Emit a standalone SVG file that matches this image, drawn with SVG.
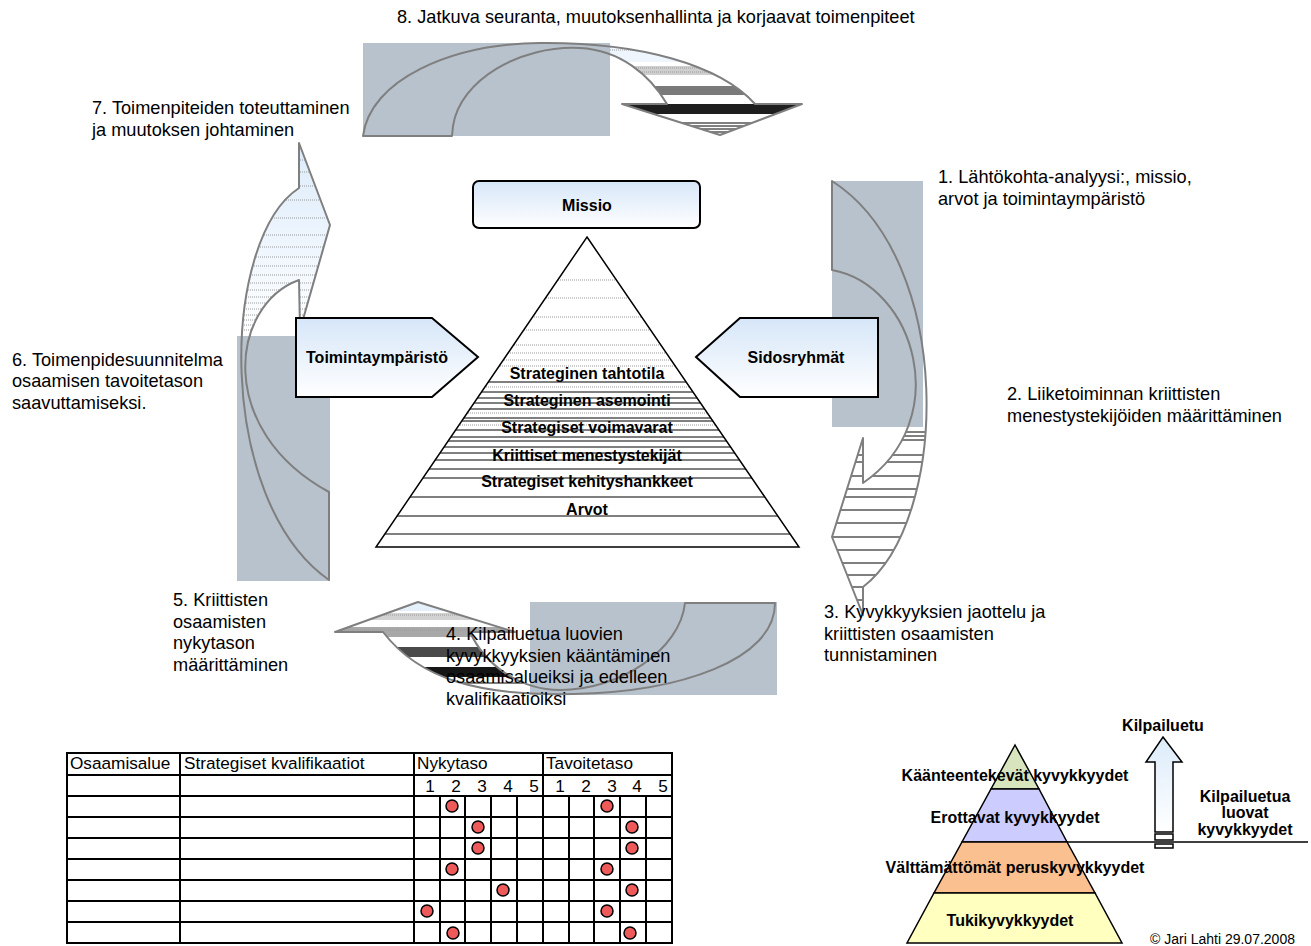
<svg xmlns="http://www.w3.org/2000/svg" width="1311" height="946" viewBox="0 0 1311 946">
<style>
.lbl{font-family:"Liberation Sans",Arial,sans-serif;font-size:18.2px;fill:#000}
.b16{font-family:"Liberation Sans",Arial,sans-serif;font-size:16px;font-weight:bold;fill:#000}
.tb{font-family:"Liberation Sans",Arial,sans-serif;font-size:17.2px;fill:#000}
.cr{font-family:"Liberation Sans",Arial,sans-serif;font-size:14px;fill:#000}
.gray{fill:#B8C2CC}
.aout{fill:none;stroke:#7F7F7F;stroke-width:2;stroke-linejoin:round}
.box{fill:url(#boxg);stroke:#000;stroke-width:2}
.tl{stroke:#000;stroke-width:2;fill:none}
.dot{fill:#EE5A5A;stroke:#000;stroke-width:1.5}
.pl{stroke:#000;stroke-width:1}
.pd{stroke:#999;stroke-width:1;stroke-dasharray:1 1}
.bl{stroke:#000;stroke-width:1}
.gl{stroke:#9A9A9A;stroke-width:1;stroke-dasharray:1 1}
.sp{stroke:#000;stroke-width:1.5;stroke-linejoin:miter}
</style>
<defs>
<linearGradient id="boxg" x1="0" y1="0" x2="0" y2="1"><stop offset="0" stop-color="#D6E6F8"/><stop offset="1" stop-color="#FFFFFF"/></linearGradient>
<linearGradient id="lblue" x1="0" y1="0" x2="0" y2="1"><stop offset="0" stop-color="#DCEBFA"/><stop offset="1" stop-color="#FFFFFF"/></linearGradient>
<clipPath id="cTop"><path d="M363,136 L452,136 L453,126 C460,80 520,45 580,48 C620,50 650,75 667,104 L622,104 L720,135 L802,104 L755,104 C720,65 640,42 540,43 C450,44 370,80 363,136 Z"/></clipPath>
<clipPath id="cRight"><path d="M832,181 L832,270 C915,285 955,420 863,483 L863,438 L832,537 L863,615 L863,587 C950,520 955,260 832,181 Z"/></clipPath>
<clipPath id="cLeft"><path d="M299,143 L330,225 L300,330 L299,280 C230,305 215,430 329,492 L329,580 C215,500 220,240 299,188 Z"/></clipPath>
<clipPath id="cBot"><path d="M775,603 L685,603 C680,650 620,690 560,690 C520,690 485,665 470,632 L515,632 L418,602 L335,632 L383,632 C420,680 480,696 573,694 C680,692 775,660 775,603 Z"/></clipPath>
<clipPath id="cPyr"><path d="M587,237 L799,547 L376,547 Z"/></clipPath>
</defs>

<g id="connectors">
 <g id="arrow-top">
  <g clip-path="url(#cTop)">
   <rect x="600" y="40" width="210" height="100" fill="#FFFFFF"/>
   <rect x="600" y="44" width="210" height="18" fill="#EEF5FD"/>
   <line x1="600" y1="47" x2="810" y2="47" class="gl"/>
   <line x1="600" y1="50" x2="810" y2="50" class="gl"/>
   <rect x="600" y="66" width="210" height="9" fill="#CFCFCF"/>
   <line x1="600" y1="68" x2="810" y2="68" class="gl"/>
   <line x1="600" y1="72" x2="810" y2="72" class="gl"/>
   <rect x="600" y="86" width="210" height="9" fill="#7A7A7A"/>
   <rect x="600" y="104" width="210" height="10" fill="#1E1E1E"/>
   <line x1="600" y1="123" x2="810" y2="123" class="bl"/>
   <line x1="600" y1="126" x2="810" y2="126" class="bl"/>
   <line x1="600" y1="129" x2="810" y2="129" class="bl"/>
   <line x1="600" y1="132" x2="810" y2="132" class="bl"/>
  </g>
  <rect x="363" y="43" width="247" height="93" class="gray"/>
  <path class="aout" d="M363,136 L452,136 L453,126 C460,80 520,45 580,48 C620,50 650,75 667,104 L622,104 L720,135 L802,104 L755,104 C720,65 640,42 540,43 C450,44 370,80 363,136 Z"/>
 </g>
 <g id="arrow-right">
  <g clip-path="url(#cRight)">
   <rect x="820" y="420" width="120" height="200" fill="#FFFFFF"/>
   <line x1="820" y1="432" x2="940" y2="432" class="bl"/>
   <line x1="820" y1="436" x2="940" y2="436" class="bl"/>
   <line x1="820" y1="440" x2="940" y2="440" class="bl"/>
   <line x1="820" y1="455" x2="940" y2="455" class="bl"/>
   <line x1="820" y1="462" x2="940" y2="462" class="bl"/>
   <line x1="820" y1="476" x2="940" y2="476" class="bl"/>
   <line x1="820" y1="489" x2="940" y2="489" class="bl"/>
   <line x1="820" y1="497" x2="940" y2="497" class="bl"/>
   <line x1="820" y1="510" x2="940" y2="510" class="bl"/>
   <line x1="820" y1="523" x2="940" y2="523" class="bl"/>
   <line x1="820" y1="537" x2="940" y2="537" class="bl"/>
   <line x1="820" y1="550" x2="940" y2="550" class="bl"/>
   <line x1="820" y1="563" x2="940" y2="563" class="bl"/>
   <line x1="820" y1="575" x2="940" y2="575" class="bl"/>
   <line x1="820" y1="587" x2="940" y2="587" class="bl"/>
   <line x1="820" y1="600" x2="940" y2="600" class="bl"/>
  </g>
  <rect x="832" y="181" width="91" height="246" class="gray"/>
  <path class="aout" d="M832,181 L832,270 C915,285 955,420 863,483 L863,438 L832,537 L863,615 L863,587 C950,520 955,260 832,181 Z"/>
 </g>
 <g id="arrow-left">
  <g clip-path="url(#cLeft)">
   <rect x="230" y="140" width="110" height="200" fill="url(#lblue)"/>
   <line x1="230" y1="160" x2="340" y2="160" class="gl"/>
   <line x1="230" y1="172" x2="340" y2="172" class="gl"/>
   <line x1="230" y1="186" x2="340" y2="186" class="gl"/>
   <line x1="230" y1="200" x2="340" y2="200" class="gl"/>
   <line x1="230" y1="218" x2="340" y2="218" class="gl"/>
   <line x1="230" y1="235" x2="340" y2="235" class="gl"/>
   <line x1="230" y1="247" x2="340" y2="247" class="gl"/>
   <line x1="230" y1="257" x2="340" y2="257" class="gl"/>
   <line x1="230" y1="266" x2="340" y2="266" class="gl"/>
   <line x1="230" y1="275" x2="340" y2="275" class="gl"/>
   <line x1="230" y1="283" x2="340" y2="283" class="gl"/>
   <line x1="230" y1="290" x2="340" y2="290" class="gl"/>
   <line x1="230" y1="297" x2="340" y2="297" class="gl"/>
   <line x1="230" y1="303" x2="340" y2="303" class="gl"/>
   <line x1="230" y1="309" x2="340" y2="309" class="gl"/>
   <line x1="230" y1="315" x2="340" y2="315" class="gl"/>
   <line x1="230" y1="320" x2="340" y2="320" class="gl"/>
   <line x1="230" y1="325" x2="340" y2="325" class="gl"/>
   <line x1="230" y1="330" x2="340" y2="330" class="gl"/>
  </g>
  <rect x="237" y="336" width="93" height="245" class="gray"/>
  <path class="aout" d="M299,143 L330,225 L300,330 L299,280 C230,305 215,430 329,492 L329,580 C215,500 220,240 299,188 Z"/>
 </g>
 <g id="arrow-bottom">
  <g clip-path="url(#cBot)">
   <rect x="330" y="598" width="205" height="100" fill="#FFFFFF"/>
   <rect x="330" y="600" width="205" height="11" fill="#E6F0FB"/>
   <rect x="330" y="613" width="205" height="7" fill="#D2D2D2"/>
   <line x1="330" y1="615" x2="535" y2="615" class="gl"/>
   <rect x="330" y="627" width="205" height="10" fill="#A8A8A8"/>
   <line x1="330" y1="630" x2="535" y2="630" class="gl"/>
   <rect x="330" y="647" width="205" height="10" fill="#4A4A4A"/>
   <rect x="330" y="667" width="205" height="10" fill="#161616"/>
   <line x1="330" y1="683" x2="535" y2="683" class="bl"/>
  </g>
  <rect x="530" y="602" width="247" height="93" class="gray"/>
  <path class="aout" d="M775,603 L685,603 C680,650 620,690 560,690 C520,690 485,665 470,632 L515,632 L418,602 L335,632 L383,632 C420,680 480,696 573,694 C680,692 775,660 775,603 Z"/>
 </g>
</g>

<g id="node-missio">
 <rect x="473" y="181" width="227" height="47" rx="6" class="box"/>
 <text x="587" y="211" text-anchor="middle" class="b16">Missio</text>
</g>
<g id="node-toimintaymparisto">
 <path d="M296,318 L432,318 L478,357 L432,397 L296,397 Z" class="box"/>
 <text x="377" y="363" text-anchor="middle" class="b16">Toimintaympäristö</text>
</g>
<g id="node-sidosryhmat">
 <path d="M878,318 L740,318 L696,357 L740,397 L878,397 Z" class="box"/>
 <text x="796" y="363" text-anchor="middle" class="b16">Sidosryhmät</text>
</g>

<g id="node-pyramid">
 <path d="M587,237 L799,547 L376,547 Z" fill="#FFFFFF"/>
 <g clip-path="url(#cPyr)">
  <line x1="370" y1="280" x2="805" y2="280" class="pd"/>
  <line x1="370" y1="298" x2="805" y2="298" class="pd"/>
  <line x1="370" y1="317" x2="805" y2="317" class="pd"/>
  <line x1="370" y1="330" x2="805" y2="330" class="pd"/>
  <line x1="370" y1="345" x2="805" y2="345" class="pd"/>
  <line x1="370" y1="353" x2="805" y2="353" class="pd"/>
  <line x1="370" y1="360" x2="805" y2="360" class="pd"/>
  <line x1="370" y1="366" x2="805" y2="366" class="pd"/>
  <line x1="370" y1="382" x2="805" y2="382" class="pl"/>
  <line x1="370" y1="387" x2="805" y2="387" class="pd"/>
  <line x1="370" y1="392" x2="805" y2="392" class="pl"/>
  <line x1="370" y1="398" x2="805" y2="398" class="pl"/>
  <line x1="370" y1="403" x2="805" y2="403" class="pl"/>
  <line x1="370" y1="409" x2="805" y2="409" class="pl"/>
  <line x1="370" y1="413" x2="805" y2="413" class="pd"/>
  <line x1="370" y1="418" x2="805" y2="418" class="pl"/>
  <line x1="370" y1="421" x2="805" y2="421" class="pl"/>
  <line x1="370" y1="425" x2="805" y2="425" class="pd"/>
  <line x1="370" y1="430" x2="805" y2="430" class="pl"/>
  <line x1="370" y1="437" x2="805" y2="437" class="pl"/>
  <line x1="370" y1="441" x2="805" y2="441" class="pl"/>
  <line x1="370" y1="447" x2="805" y2="447" class="pl"/>
  <line x1="370" y1="453" x2="805" y2="453" class="pl"/>
  <line x1="370" y1="460" x2="805" y2="460" class="pl"/>
  <line x1="370" y1="469" x2="805" y2="469" class="pl"/>
  <line x1="370" y1="478" x2="805" y2="478" class="pl"/>
  <line x1="370" y1="497" x2="805" y2="497" class="pl"/>
  <line x1="370" y1="516" x2="805" y2="516" class="pl"/>
  <line x1="370" y1="534" x2="805" y2="534" class="pl"/>
 </g>
 <path d="M587,237 L799,547 L376,547 Z" fill="none" stroke="#000" stroke-width="1.5"/>
 <text x="587" y="379" text-anchor="middle" class="b16">Strateginen tahtotila</text>
 <text x="587" y="406" text-anchor="middle" class="b16">Strateginen asemointi</text>
 <text x="587" y="433" text-anchor="middle" class="b16">Strategiset voimavarat</text>
 <text x="587" y="461" text-anchor="middle" class="b16">Kriittiset menestystekijät</text>
 <text x="587" y="487" text-anchor="middle" class="b16">Strategiset kehityshankkeet</text>
 <text x="587" y="515" text-anchor="middle" class="b16">Arvot</text>
</g>

<g id="labels">
 <text x="397" y="23" class="lbl">8. Jatkuva seuranta, muutoksenhallinta ja korjaavat toimenpiteet</text>
 <text x="92" y="114" class="lbl">7. Toimenpiteiden toteuttaminen</text>
 <text x="92" y="136" class="lbl">ja muutoksen johtaminen</text>
 <text x="938" y="183" class="lbl">1. Lähtökohta-analyysi:, missio,</text>
 <text x="938" y="205" class="lbl">arvot ja toimintaympäristö</text>
 <text x="1007" y="400" class="lbl">2. Liiketoiminnan kriittisten</text>
 <text x="1007" y="422" class="lbl">menestystekijöiden määrittäminen</text>
 <text x="824" y="618" class="lbl">3. Kyvykkyyksien jaottelu ja</text>
 <text x="824" y="640" class="lbl">kriittisten osaamisten</text>
 <text x="824" y="661" class="lbl">tunnistaminen</text>
 <text x="446" y="640" class="lbl">4. Kilpailuetua luovien</text>
 <text x="446" y="662" class="lbl">kyvykkyyksien kääntäminen</text>
 <text x="446" y="683" class="lbl">osaamisalueiksi ja edelleen</text>
 <text x="446" y="705" class="lbl">kvalifikaatioiksi</text>
 <text x="173" y="606" class="lbl">5. Kriittisten</text>
 <text x="173" y="628" class="lbl">osaamisten</text>
 <text x="173" y="649" class="lbl">nykytason</text>
 <text x="173" y="671" class="lbl">määrittäminen</text>
 <text x="12" y="366" class="lbl">6. Toimenpidesuunnitelma</text>
 <text x="12" y="387" class="lbl">osaamisen tavoitetason</text>
 <text x="12" y="409" class="lbl">saavuttamiseksi.</text>
</g>

<g id="node-table">
 <g class="tl">
  <line x1="67" y1="753" x2="672" y2="753"/>
  <line x1="67" y1="775" x2="672" y2="775"/>
  <line x1="67" y1="796" x2="672" y2="796"/>
  <line x1="67" y1="817" x2="672" y2="817"/>
  <line x1="67" y1="838" x2="672" y2="838"/>
  <line x1="67" y1="859" x2="672" y2="859"/>
  <line x1="67" y1="880" x2="672" y2="880"/>
  <line x1="67" y1="901" x2="672" y2="901"/>
  <line x1="67" y1="922" x2="672" y2="922"/>
  <line x1="67" y1="943" x2="672" y2="943"/>
  <line x1="67" y1="752" x2="67" y2="944"/>
  <line x1="180" y1="752" x2="180" y2="944"/>
  <line x1="414" y1="752" x2="414" y2="944"/>
  <line x1="543" y1="752" x2="543" y2="944"/>
  <line x1="672" y1="752" x2="672" y2="944"/>
  <line x1="440" y1="796" x2="440" y2="943"/>
  <line x1="465" y1="796" x2="465" y2="943"/>
  <line x1="491" y1="796" x2="491" y2="943"/>
  <line x1="517" y1="796" x2="517" y2="943"/>
  <line x1="569" y1="796" x2="569" y2="943"/>
  <line x1="594" y1="796" x2="594" y2="943"/>
  <line x1="620" y1="796" x2="620" y2="943"/>
  <line x1="646" y1="796" x2="646" y2="943"/>
 </g>
 <text x="70" y="769" class="tb">Osaamisalue</text>
 <text x="184" y="769" class="tb">Strategiset kvalifikaatiot</text>
 <text x="417" y="769" class="tb">Nykytaso</text>
 <text x="546" y="769" class="tb">Tavoitetaso</text>
 <g class="tb" text-anchor="middle">
  <text x="430" y="792">1</text><text x="456" y="792">2</text><text x="482" y="792">3</text><text x="508" y="792">4</text><text x="534" y="792">5</text>
  <text x="560" y="792">1</text><text x="586" y="792">2</text><text x="612" y="792">3</text><text x="637" y="792">4</text><text x="663" y="792">5</text>
 </g>
 <g>
  <circle cx="452" cy="806" r="6" class="dot"/><circle cx="607" cy="806" r="6" class="dot"/>
  <circle cx="478" cy="827" r="6" class="dot"/><circle cx="632" cy="827" r="6" class="dot"/>
  <circle cx="478" cy="848" r="6" class="dot"/><circle cx="632" cy="848" r="6" class="dot"/>
  <circle cx="452" cy="869" r="6" class="dot"/><circle cx="607" cy="869" r="6" class="dot"/>
  <circle cx="503" cy="890" r="6" class="dot"/><circle cx="632" cy="890" r="6" class="dot"/>
  <circle cx="427" cy="911" r="6" class="dot"/><circle cx="607" cy="911" r="6" class="dot"/>
  <circle cx="453" cy="933" r="6" class="dot"/><circle cx="630" cy="933" r="6" class="dot"/>
 </g>
</g>

<g id="node-capability-pyramid">
 <path d="M1015,745 L1039,789 L991,789 Z" fill="#D7E4BD" class="sp"/>
 <path d="M991,789 L1039,789 L1067,842 L962,842 Z" fill="#CCCCFF" class="sp"/>
 <path d="M962,842 L1067,842 L1095,893 L934,893 Z" fill="#FAC090" class="sp"/>
 <path d="M934,893 L1095,893 L1122,943 L907,943 Z" fill="#FFFFC0" class="sp"/>
 <line x1="1067" y1="842" x2="1308" y2="842" stroke="#000" stroke-width="1.5"/>
 <text x="1015" y="781" text-anchor="middle" class="b16">Käänteentekevät kyvykkyydet</text>
 <text x="1015" y="823" text-anchor="middle" class="b16">Erottavat kyvykkyydet</text>
 <text x="1015" y="873" text-anchor="middle" class="b16">Välttämättömät peruskyvykkyydet</text>
 <text x="1010" y="926" text-anchor="middle" class="b16">Tukikyvykkyydet</text>
</g>
<g id="node-kilpailuetu">
 <path d="M1163,737 L1182,762 L1173,762 L1173,832 L1155,832 L1155,762 L1146,762 Z" fill="url(#lblue)" stroke="#000" stroke-width="1.5"/>
 <rect x="1155" y="834" width="18" height="6" fill="#FFFFFF" stroke="#000" stroke-width="1.5"/>
 <rect x="1155" y="844" width="18" height="4" fill="#FFFFFF" stroke="#000" stroke-width="1.5"/>
 <text x="1163" y="731" text-anchor="middle" class="b16">Kilpailuetu</text>
 <text x="1245" y="802" text-anchor="middle" class="b16">Kilpailuetua</text>
 <text x="1245" y="818" text-anchor="middle" class="b16">luovat</text>
 <text x="1245" y="835" text-anchor="middle" class="b16">kyvykkyydet</text>
</g>
<text x="1150" y="944" class="cr">© Jari Lahti 29.07.2008</text>
</svg>
